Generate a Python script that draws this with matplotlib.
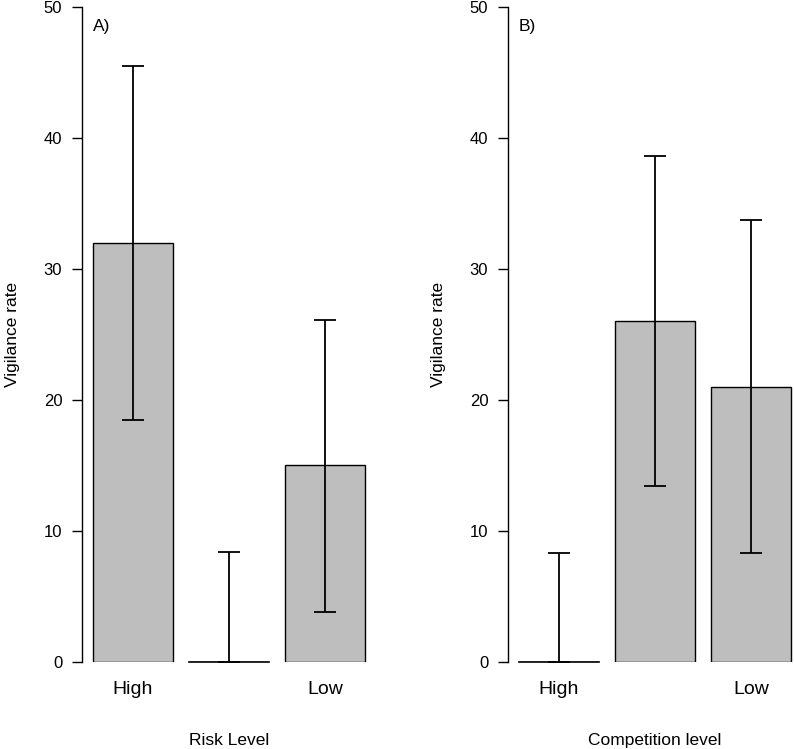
import numpy as np
import matplotlib
matplotlib.use('Agg')
import matplotlib.pyplot as plt

plt.rcParams['font.family'] = ['Liberation Sans', 'DejaVu Sans']

# data
labels = ['High', '', 'Low']
risk_mean = [32, 0, 15]
risk_lo = [18.5, 0, 3.8]
risk_hi = [45.5, 8.4, 26.1]
comp_mean = [0, 26, 21]
comp_lo = [0, 13.4, 8.3]
comp_hi = [8.3, 38.6, 33.7]

fig = plt.figure(figsize=(7.94, 7.49), dpi=100)

# R barplot positions: width 1, space 0.2
pos = np.array([0.7, 1.9, 3.1])

panels = [
    (0.1033, risk_mean, risk_lo, risk_hi, 'Risk Level', 'A)'),
    (0.6398, comp_mean, comp_lo, comp_hi, 'Competition level', 'B)'),
]

for left, mean, lo, hi, xlab, tag in panels:
    ax = fig.add_axes([left, 0.1162, 0.3703, 0.8745])
    mean = np.array(mean)
    yerr = [mean - np.array(lo), np.array(hi) - mean]
    ax.bar(pos, mean, width=1.0, color='#bebebe', edgecolor='black', linewidth=1)
    # zero-height bar still shows its outline as a line
    for p, m in zip(pos, mean):
        if m == 0:
            ax.plot([p - 0.5, p + 0.5], [0, 0], color='black', lw=1.2,
                    zorder=3, clip_on=False)
    ax.errorbar(pos, mean, yerr=yerr, fmt='none', ecolor='black',
                elinewidth=1.3, capsize=7.9, capthick=1.3, zorder=4)
    ax.set_xlim(0.064, 3.736)
    ax.set_ylim(0, 50)
    for s in ['top', 'right', 'bottom']:
        ax.spines[s].set_visible(False)
    ax.spines['left'].set_linewidth(1)
    ax.set_yticks([0, 10, 20, 30, 40, 50])
    ax.tick_params(axis='y', length=7.2, width=1, pad=7, labelsize=12)
    ax.set_xticks([pos[0], pos[2]])
    ax.set_xticklabels([labels[0], labels[2]], fontsize=14)
    ax.tick_params(axis='x', length=0, pad=14)
    ax.set_xlabel(xlab, fontsize=12.5, labelpad=25)
    ax.set_ylabel('Vigilance rate', fontsize=12.5, labelpad=17)
    ax.text(0.2, 48.5, tag, fontsize=12.5, va='center', ha='left')
    for sp in ax.spines.values():
        sp.set_clip_on(False)

plt.savefig('out.png', dpi=100)
